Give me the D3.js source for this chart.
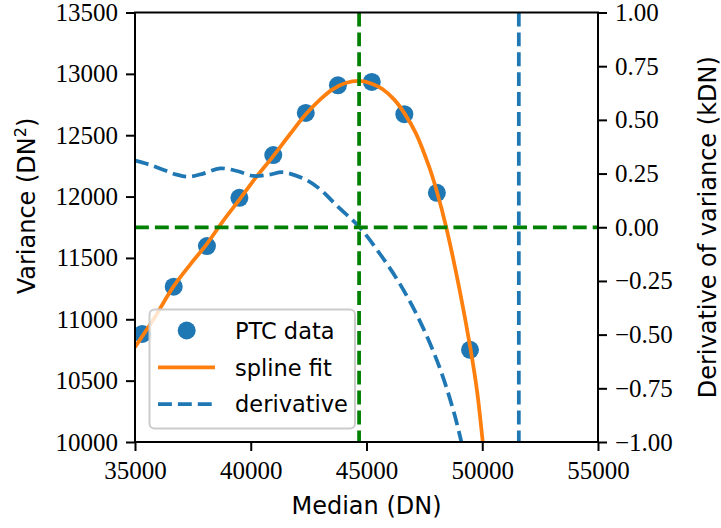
<!DOCTYPE html>
<html>
<head>
<meta charset="utf-8">
<script src="https://cdn.jsdelivr.net/npm/d3@7"></script>
<style>
  html, body { margin: 0; padding: 0; background: #fff; }
  svg { display: block; }
  .tick text { font-family: "Liberation Serif", "DejaVu Serif", serif; font-size: 25px; fill: #000; }
  .lbl { font-family: "DejaVu Sans", sans-serif; font-size: 24px; fill: #000; }
  .leg { font-family: "DejaVu Sans", sans-serif; font-size: 22.5px; fill: #000; }
</style>
</head>
<body>
<svg id="chart" width="721" height="528"></svg>
<script>
// Photon transfer curve: measured points
const medianDN   = [35314, 36672, 38108, 39510, 40972, 42377, 43766, 45228, 46634, 48040, 49471];
const varianceDN2 = [10881, 11266, 11597, 11990, 12338, 12682, 12907, 12934, 12671, 12031, 10751];

// Spline fit through the points (sampled)
const splineX = [35000, 35800, 36672, 37400, 38108, 38800, 39510, 40200, 40972, 41700, 42377, 42980, 43500, 44100, 44700, 45228, 45700, 46200, 46634, 47140, 47710, 48040, 48430, 49000, 49500, 49780, 50000, 50100];
const splineY = [10773, 11000, 11270, 11450, 11615, 11800, 11975, 12150, 12330, 12510, 12670, 12787, 12870, 12925, 12942, 12920, 12875, 12790, 12680, 12513, 12239, 12041, 11760, 11260, 10751, 10410, 10040, 9860];

// Derivative of the spline fit (right axis, kDN)
const derivX = [35000, 35600, 36243, 36800, 37317, 37950, 38680, 39400, 40112, 40800, 41402, 42405, 43050, 43696, 44700, 45560, 46420, 47280, 48140, 48784, 49120];
const derivY = [0.310, 0.292, 0.267, 0.245, 0.235, 0.250, 0.274, 0.262, 0.239, 0.245, 0.256, 0.220, 0.172, 0.103, 0.000, -0.121, -0.260, -0.431, -0.648, -0.865, -1.010];

// Reference markers
const peakMedian = 44680;   // zero of the derivative
const zeroDeriv = 0;
const limitMedian = 51580;

// Axis ticks
const xTicks = [35000, 40000, 45000, 50000, 55000];
const yTicks = [10000, 10500, 11000, 11500, 12000, 12500, 13000, 13500];
const y2Ticks = [-1.00, -0.75, -0.50, -0.25, 0.00, 0.25, 0.50, 0.75, 1.00];

const C0 = "#1f77b4", C1 = "#ff7f0e", G = "#008000";

const svg = d3.select("#chart");
const L = 135, R = 598, T = 12.5, B = 442;

const x = d3.scaleLinear().domain([35000, 55000]).range([L, R]);
const y = d3.scaleLinear().domain([10000, 13500]).range([B, T]);
const y2 = d3.scaleLinear().domain([-1, 1]).range([B, T]);

svg.append("defs").append("clipPath").attr("id", "plotclip")
  .append("rect").attr("x", L).attr("y", T).attr("width", R - L).attr("height", B - T);

const plot = svg.append("g").attr("clip-path", "url(#plotclip)");

// data points
plot.selectAll("circle.pt").data(medianDN).join("circle")
  .attr("class", "pt")
  .attr("cx", (d) => x(d))
  .attr("cy", (d, i) => y(varianceDN2[i]))
  .attr("r", 9)
  .attr("fill", C0);

// spline fit
const splineLine = d3.line().x((d) => x(d[0])).y((d) => y(d[1])).curve(d3.curveCatmullRom.alpha(0.5));
plot.append("path")
  .datum(splineX.map((v, i) => [v, splineY[i]]))
  .attr("d", splineLine)
  .attr("fill", "none").attr("stroke", C1).attr("stroke-width", 3.75);

// derivative
const derivLine = d3.line().x((d) => x(d[0])).y((d) => y2(d[1])).curve(d3.curveCatmullRom.alpha(0.5));
plot.append("path")
  .datum(derivX.map((v, i) => [v, derivY[i]]))
  .attr("d", derivLine)
  .attr("fill", "none").attr("stroke", C0).attr("stroke-width", 3.75)
  .attr("stroke-dasharray", "13.9,6");

// reference lines
plot.append("line")
  .attr("x1", L).attr("x2", R).attr("y1", y2(zeroDeriv)).attr("y2", y2(zeroDeriv))
  .attr("stroke", G).attr("stroke-width", 3.75).attr("stroke-dasharray", "13.9,6");
plot.append("line")
  .attr("x1", x(peakMedian)).attr("x2", x(peakMedian)).attr("y1", T).attr("y2", B)
  .attr("stroke", G).attr("stroke-width", 3.75).attr("stroke-dasharray", "13.9,6");
plot.append("line")
  .attr("x1", x(limitMedian)).attr("x2", x(limitMedian)).attr("y1", T).attr("y2", B)
  .attr("stroke", C0).attr("stroke-width", 3.75).attr("stroke-dasharray", "13.9,6");

// axes
const fmtMinus = (s) => s.replace("-", "\u2212");
const xAxis = d3.axisBottom(x).tickValues(xTicks).tickFormat(d3.format("d")).tickSize(9).tickPadding(10);
const yAxis = d3.axisLeft(y).tickValues(yTicks).tickFormat(d3.format("d")).tickSize(9).tickPadding(8);
const y2Axis = d3.axisRight(y2).tickValues(y2Ticks).tickFormat((d) => fmtMinus(d3.format(".2f")(d))).tickSize(9).tickPadding(8);

function styleAxis(g) {
  g.select(".domain").remove();
  g.selectAll(".tick line").attr("stroke", "#000").attr("stroke-width", 2);
}
svg.append("g").attr("transform", `translate(0,${B})`).call(xAxis).call(styleAxis);
svg.append("g").attr("transform", `translate(${L},0)`).call(yAxis).call(styleAxis);
svg.append("g").attr("transform", `translate(${R},0)`).call(y2Axis).call(styleAxis);

svg.append("rect").attr("x", L).attr("y", T).attr("width", R - L).attr("height", B - T)
  .attr("fill", "none").attr("stroke", "#000").attr("stroke-width", 2);

// axis labels
svg.append("text").attr("class", "lbl")
  .attr("x", (L + R) / 2).attr("y", 514).attr("text-anchor", "middle")
  .text("Median (DN)");

const vl = svg.append("text").attr("class", "lbl")
  .attr("transform", "translate(35,206) rotate(-90)").attr("text-anchor", "middle");
vl.append("tspan").text("Variance (DN");
vl.append("tspan").attr("font-size", "16px").attr("dy", "-9").text("2");
vl.append("tspan").attr("dy", "9").text(")");

svg.append("text").attr("class", "lbl")
  .attr("transform", `translate(716,${(T + B) / 2}) rotate(-90)`).attr("text-anchor", "middle")
  .text("Derivative of variance (kDN)");

// legend
const lg = svg.append("g");
lg.append("rect").attr("x", 149.5).attr("y", 309.5).attr("width", 205.5).attr("height", 119)
  .attr("rx", 5).attr("fill", "#fff").attr("fill-opacity", 0.8)
  .attr("stroke", "#cccccc").attr("stroke-width", 2);
const rows = [330.5, 367.3, 404];
lg.append("circle").attr("cx", 186.7).attr("cy", rows[0]).attr("r", 9).attr("fill", C0);
lg.append("line").attr("x1", 158).attr("x2", 215).attr("y1", rows[1]).attr("y2", rows[1])
  .attr("stroke", C1).attr("stroke-width", 3.75);
lg.append("line").attr("x1", 158).attr("x2", 215).attr("y1", rows[2]).attr("y2", rows[2])
  .attr("stroke", C0).attr("stroke-width", 3.75).attr("stroke-dasharray", "13.9,6");
["PTC data", "spline fit", "derivative"].forEach((t, i) => {
  lg.append("text").attr("class", "leg").attr("x", 235).attr("y", rows[i] + 8.3).text(t);
});
</script>
</body>
</html>
